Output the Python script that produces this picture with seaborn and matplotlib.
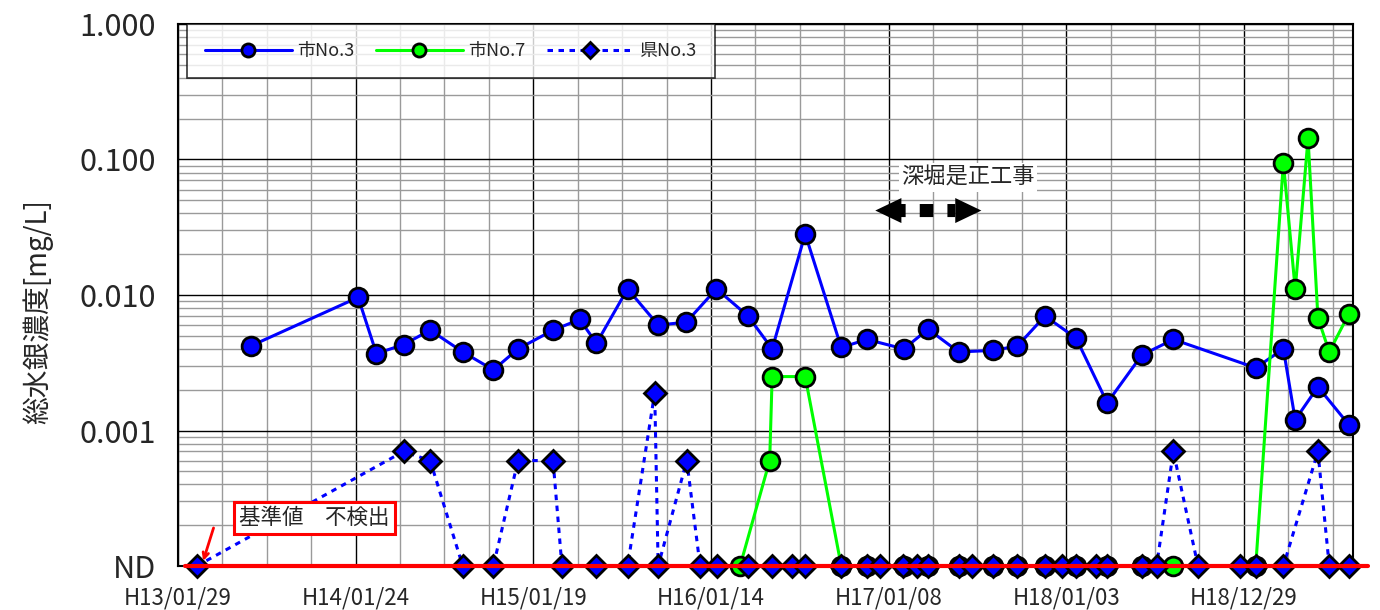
import numpy as np
import pandas as pd
import seaborn as sns
import matplotlib.pyplot as plt
from matplotlib.ticker import FixedLocator, MultipleLocator, LogLocator, NullFormatter

# 不検出(ND)は軸の下端 0.0001 に表示
ND = 0.0001

# 経過日数 (H13/01/29 = 0日) と 総水銀濃度 [mg/L]
shi3_days = [147, 365, 402, 457, 511, 577, 639, 689, 760, 814,
             848, 911, 973, 1030, 1091, 1155, 1204, 1271, 1344, 1396,
             1471, 1520, 1582, 1651, 1701, 1757, 1820, 1883, 1953, 2017,
             2184, 2240, 2264, 2310, 2373]
shi3_vals = [0.0042, 0.0096, 0.0037, 0.0043, 0.0055, 0.0038, 0.0028, 0.0040, 0.0055, 0.0066,
             0.0044, 0.0111, 0.0060, 0.0063, 0.0111, 0.0070, 0.0040, 0.0282, 0.0041, 0.0047,
             0.0040, 0.0056, 0.0038, 0.0039, 0.0042, 0.0070, 0.0048, 0.0016, 0.0036, 0.0047,
             0.0029, 0.0040, 0.0012, 0.0021, 0.0011]

shi7_days = [1139, 1199, 1204, 1271, 1344, 1396, 1471, 1520, 1582, 1651,
             1701, 1757, 1820, 1883, 1953, 2017, 2184, 2240, 2264, 2290,
             2310, 2333, 2373]
shi7_vals = [ND, 0.0006, 0.0025, 0.0025, ND, ND, ND, ND, ND, ND,
             ND, ND, ND, ND, ND, ND, ND, 0.095, 0.011, 0.143,
             0.0068, 0.0038, 0.0073]

ken3_days = [38, 457, 511, 577, 639, 689, 760, 778, 848, 911,
             966, 973, 1031, 1058, 1092, 1156, 1204, 1244, 1271, 1344,
             1396, 1423, 1470, 1497, 1520, 1582, 1609, 1651, 1701, 1757,
             1792, 1820, 1860, 1883, 1953, 1983, 2017, 2067, 2152, 2184,
             2240, 2310, 2333, 2373]
ken3_vals = [ND, 0.0007, 0.0006, ND, ND, 0.0006, 0.0006, ND, ND, ND,
             0.0019, ND, 0.0006, ND, ND, ND, ND, ND, ND, ND,
             ND, ND, ND, ND, ND, ND, ND, ND, ND, ND,
             ND, ND, ND, ND, ND, ND, 0.0007, ND, ND, ND,
             ND, 0.0007, ND, ND]

xtick_days = [0, 360, 720, 1080, 1440, 1800, 2160]
xtick_labels = ['H13/01/29', 'H14/01/24', 'H15/01/19', 'H16/01/14',
                'H17/01/08', 'H18/01/03', 'H18/12/29']
ytick_vals = [ND, 0.001, 0.01, 0.1, 1.0]
ytick_labels = ['ND', '0.001', '0.010', '0.100', '1.000']

sns.set_style('white')
plt.rcParams['font.family'] = ['Noto Sans CJK JP', 'DejaVu Sans']

fig, ax = plt.subplots(figsize=(13.8, 6.1), dpi=100)
fig.subplots_adjust(left=0.129, right=0.9804, top=0.9607, bottom=0.0721)

# 系列
sns.lineplot(x=shi3_days, y=shi3_vals, ax=ax, estimator=None, sort=False,
             color='#0000ff', linewidth=2.2, marker='o', markersize=13.5,
             markerfacecolor='#0000ff', markeredgecolor='k', markeredgewidth=2,
             label='市No.3', zorder=3, clip_on=False)
sns.lineplot(x=shi7_days, y=shi7_vals, ax=ax, estimator=None, sort=False,
             color='#00ff00', linewidth=2.2, marker='o', markersize=13.5,
             markerfacecolor='#00ff00', markeredgecolor='k', markeredgewidth=2,
             label='市No.7', zorder=4, clip_on=False)
sns.lineplot(x=ken3_days, y=ken3_vals, ax=ax, estimator=None, sort=False,
             color='#0000ff', linewidth=2.2, linestyle=(0, (1.8, 1.8)),
             marker='D', markersize=11.5,
             markerfacecolor='#0000ff', markeredgecolor='k', markeredgewidth=2,
             label='県No.3', zorder=5, clip_on=False)

# 基準値ライン(不検出)
ax.axhline(ND, xmin=0.006, xmax=1.0128, color='#ff0000', linewidth=3,
           zorder=6, clip_on=False)

# 軸
ax.set_yscale('log')
ax.set_ylim(ND, 1.0)
ax.set_xlim(0, 2381)
ax.yaxis.set_major_locator(FixedLocator(ytick_vals))
ax.set_yticklabels(ytick_labels)
ax.yaxis.set_minor_locator(LogLocator(base=10, subs=np.arange(2, 10)))
ax.yaxis.set_minor_formatter(NullFormatter())
ax.xaxis.set_major_locator(FixedLocator(xtick_days))
ax.set_xticklabels(xtick_labels)
ax.xaxis.set_minor_locator(MultipleLocator(90))

ax.set_axisbelow(True)
ax.grid(which='major', color='k', linewidth=1)
ax.grid(which='minor', color='#9a9a9a', linewidth=1)
ax.tick_params(which='major', direction='in', length=6, color='k')
ax.tick_params(which='minor', length=0)
ax.tick_params(axis='y', labelsize=22, pad=16)
ax.tick_params(axis='x', labelsize=16, pad=15)
for s in ax.spines.values():
    s.set_color('k')
    s.set_linewidth(1.5)

ax.set_xlabel('')
ax.set_ylabel('総水銀濃度[mg/L]', fontsize=20)
ax.yaxis.set_label_coords(-0.1064, 0.469)

# 凡例
leg = ax.legend(loc='upper left', bbox_to_anchor=(0.0077, 1.0), ncol=3,
                frameon=True, fancybox=False, edgecolor='k', fontsize=13,
                handlelength=4.8, handletextpad=0.3, columnspacing=1.2,
                markerscale=0.7, borderpad=1.0, borderaxespad=0)
leg.get_frame().set_linewidth(1.2)
leg.set_zorder(10)

# 深堀是正工事
ax.text(1601, 0.0738, '深堀是正工事', fontsize=16, ha='center', va='center',
        zorder=7, bbox=dict(facecolor='white', edgecolor='none', pad=2))
ax.annotate('', xy=(1628, 0.042), xytext=(1413, 0.042),
            arrowprops=dict(arrowstyle='<|-|>,head_length=0.94,head_width=0.45',
                            mutation_scale=20, color='k', linewidth=0,
                            shrinkA=0, shrinkB=0), zorder=7)
ax.annotate('', xy=(1575, 0.042), xytext=(1447, 0.042),
            arrowprops=dict(arrowstyle='-', color='k', linewidth=9.4,
                            linestyle=(0, (1.04, 1.08)), capstyle='butt',
                            shrinkA=0, shrinkB=0), zorder=7)

# 基準値 不検出
ax.text(276, 0.000226, '基準値　不検出', fontsize=15.5, ha='center', va='center',
        zorder=8, bbox=dict(boxstyle='square,pad=0.25', facecolor='white',
                            edgecolor='#ff0000', linewidth=2.2))
ax.annotate('', xy=(51, 0.000109), xytext=(72, 0.000191),
            arrowprops=dict(arrowstyle='->', color='#ff0000', linewidth=2,
                            shrinkA=0, shrinkB=0), zorder=8)

fig.savefig('out.png', dpi=100)
